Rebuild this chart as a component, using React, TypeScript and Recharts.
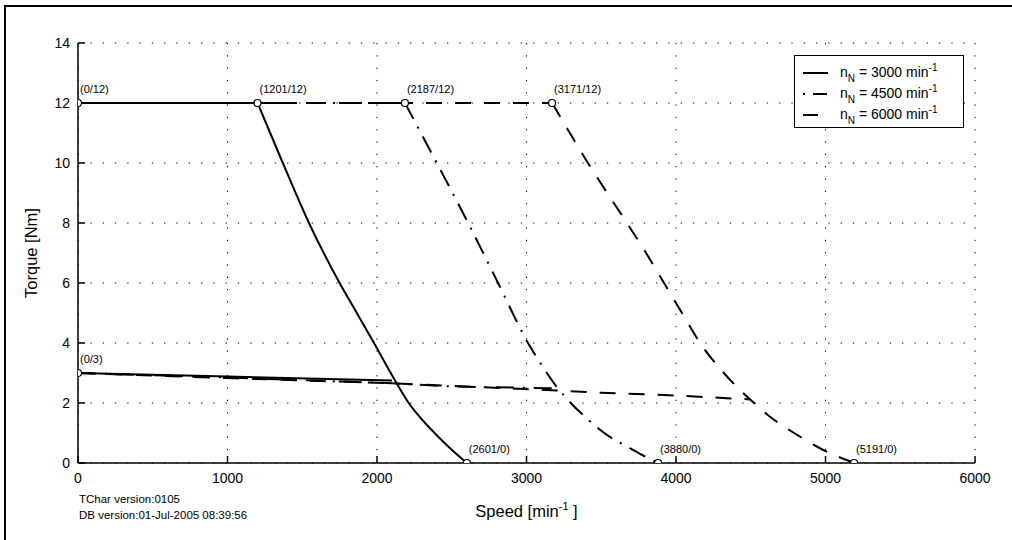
import React from "react";
import {
  CartesianGrid,
  ComposedChart,
  Legend,
  Line,
  Scatter,
  XAxis,
  YAxis,
} from "recharts";

// flat part of the peak torque curves
const flatSpeed3000 = [0, 1201];
const flatSpeed4500 = [0, 2187];
const flatSpeed6000 = [0, 3171];
const flatTorque = [12, 12];

// falling part of the peak torque curves
const speed3000 = [1201, 1370, 1545, 1750, 1865, 1980, 2092, 2150, 2212, 2292, 2385, 2487, 2601];
const torque3000 = [12, 10, 8, 6, 5, 4, 3, 2.5, 2, 1.5, 1, 0.5, 0];

const speed4500 = [2187, 2400, 2610, 2810, 3010, 3110, 3200, 3296, 3400, 3520, 3690, 3780, 3880];
const torque4500 = [12, 10, 8, 6, 4, 3.2, 2.55, 2, 1.5, 1, 0.5, 0.25, 0];

const speed6000 = [3171, 3290, 3411, 3540, 3672, 3800, 3920, 4040, 4161, 4320, 4522, 4640, 4790, 4960, 5191];
const torque6000 = [12, 11, 10, 9, 8, 7, 6, 5, 4, 3, 2, 1.5, 1, 0.5, 0];

// continuous torque curves
const lowSpeed3000 = [0, 1000, 2100];
const lowTorque3000 = [3, 2.88, 2.75];

const lowSpeed4500 = [0, 1000, 2100, 2500, 3202];
const lowTorque4500 = [3, 2.85, 2.66, 2.55, 2.49];

const lowSpeed6000 = [0, 1000, 2100, 2500, 3200, 3500, 3915, 4339, 4500];
const lowTorque6000 = [3, 2.83, 2.66, 2.57, 2.42, 2.34, 2.27, 2.16, 2.12];

// marked corner points
const markSpeeds = [0, 1201, 2187, 3171, 0, 2601, 3880, 5191];
const markTorques = [12, 12, 12, 12, 3, 0, 0, 0];

const xTicks = [0, 1000, 2000, 3000, 4000, 5000, 6000];
const yTicks = [0, 2, 4, 6, 8, 10, 12, 14];

const legendValues = ["3000", "4500", "6000"];
const legendDash = ["", "2 8 14 100", "15 100"];

const FONT = "'Liberation Sans', Arial, Helvetica, sans-serif";
const DASHDOT = "18 9 2 9";
const DASHED = "16 13";

const toRows = (xs: number[], ys: number[]) =>
  xs.map((s, i) => ({ speed: s, torque: ys[i] }));

const marks = markSpeeds.map((s, i) => ({ speed: s, torque: markTorques[i] }));

const MarkShape = (props: any) => {
  const { cx, cy, payload } = props;
  return (
    <g>
      <circle cx={cx} cy={cy} r={3.5} fill="#fff" stroke="#000" strokeWidth={1.2} />
      <text x={cx + 2} y={cy - 10} fontSize={11} fontFamily={FONT} fill="#000">
        {`(${payload.speed}/${payload.torque})`}
      </text>
    </g>
  );
};

const LegendBox = () => (
  <div
    style={{
      border: "1.5px solid #000",
      background: "#fff",
      width: 170,
      height: 73,
      boxSizing: "border-box",
      padding: "6px 0 0 8px",
      fontFamily: FONT,
      fontSize: 14,
      color: "#000",
    }}
  >
    {legendValues.map((v, i) => (
      <div key={v} style={{ display: "flex", alignItems: "center", height: 21 }}>
        <svg width={26} height={10} style={{ marginRight: 11 }}>
          <line
            x1={0}
            y1={5}
            x2={25}
            y2={5}
            stroke="#000"
            strokeWidth={2}
            strokeDasharray={legendDash[i] || undefined}
          />
        </svg>
        <span>
          n<sub style={{ fontSize: 10, verticalAlign: "-5px" }}>N</sub> = {v} min
          <sup style={{ fontSize: 10, verticalAlign: "6px" }}>-1</sup>
        </span>
      </div>
    ))}
  </div>
);

const XLabel = (props: any) => {
  const { viewBox } = props;
  const cx = viewBox.x + viewBox.width / 2;
  return (
    <text x={cx} y={viewBox.y + 54} textAnchor="middle" fontSize={16.5} fontFamily={FONT} fill="#000">
      Speed [min
      <tspan fontSize={11} dy={-7}>-1</tspan>
      <tspan dy={7}> ]</tspan>
    </text>
  );
};

const YLabel = (props: any) => {
  const { viewBox } = props;
  const cx = viewBox.x + 15;
  const cy = viewBox.y + viewBox.height / 2;
  return (
    <text
      x={cx}
      y={cy}
      transform={`rotate(-90 ${cx} ${cy})`}
      textAnchor="middle"
      dominantBaseline="middle"
      fontSize={16.5}
      fontFamily={FONT}
      fill="#000"
    >
      Torque [Nm]
    </text>
  );
};

const lineBase = {
  dataKey: "torque",
  stroke: "#000",
  strokeWidth: 2,
  dot: false,
  isAnimationActive: false,
};

export default function App() {
  const tickStyle = { fontSize: 14, fontFamily: FONT, fill: "#000" };
  return (
    <div style={{ position: "absolute", left: 0, top: 0, width: 1012, height: 540, background: "#fff" }}>
      <div
        style={{
          position: "absolute",
          left: 4,
          top: 5,
          width: 1020,
          height: 560,
          borderLeft: "2px solid #000",
          borderTop: "2px solid #000",
        }}
      />
      <ComposedChart
        width={1012}
        height={540}
        margin={{ top: 43, right: 37, bottom: 37, left: 18 }}
        style={{ position: "absolute", left: 0, top: 0 }}
      >
        <CartesianGrid stroke="#000" strokeWidth={1} strokeDasharray="1.3 11" />
        <XAxis
          type="number"
          dataKey="speed"
          domain={[0, 6000]}
          ticks={xTicks}
          height={40}
          tickSize={-7}
          tickMargin={17}
          tick={tickStyle}
          stroke="#000"
          strokeWidth={1.5}
          allowDataOverflow
          label={<XLabel />}
        />
        <XAxis
          xAxisId="top"
          type="number"
          orientation="top"
          domain={[0, 6000]}
          ticks={xTicks}
          height={0}
          tickSize={-7}
          tick={false}
          stroke="#000"
          strokeWidth={1.5}
        />
        <YAxis
          type="number"
          domain={[0, 14]}
          ticks={yTicks}
          width={60}
          tickSize={-7}
          tickMargin={15}
          tick={tickStyle}
          stroke="#000"
          strokeWidth={1.5}
          allowDataOverflow
          label={<YLabel />}
        />
        <YAxis
          yAxisId="right"
          orientation="right"
          type="number"
          domain={[0, 14]}
          ticks={yTicks}
          width={0}
          tickSize={-7}
          tick={false}
          stroke="#000"
          strokeWidth={1.5}
        />
        <Line {...lineBase} data={toRows(lowSpeed6000, lowTorque6000)} strokeDasharray={DASHED} legendType="none" />
        <Line {...lineBase} data={toRows(lowSpeed4500, lowTorque4500)} strokeDasharray={DASHDOT} legendType="none" />
        <Line {...lineBase} data={toRows(lowSpeed3000, lowTorque3000)} legendType="none" />
        <Line {...lineBase} data={toRows(flatSpeed6000, flatTorque)} strokeDasharray={DASHED} legendType="none" />
        <Line {...lineBase} data={toRows(flatSpeed4500, flatTorque)} strokeDasharray={DASHDOT} legendType="none" />
        <Line {...lineBase} data={toRows(flatSpeed3000, flatTorque)} legendType="none" />
        <Line {...lineBase} type="monotone" data={toRows(speed6000, torque6000)} strokeDasharray={DASHED} />
        <Line {...lineBase} type="monotone" data={toRows(speed4500, torque4500)} strokeDasharray={DASHDOT} />
        <Line {...lineBase} type="monotone" data={toRows(speed3000, torque3000)} />
        <Scatter data={marks} dataKey="torque" shape={<MarkShape />} isAnimationActive={false} legendType="none" />
        <Legend
          layout="vertical"
          align="center"
          verticalAlign="middle"
          content={<LegendBox />}
          wrapperStyle={{ position: "absolute", left: 794, top: 55, width: 170, height: 73 }}
        />
      </ComposedChart>
      <div
        style={{
          position: "absolute",
          left: 79,
          top: 491,
          fontFamily: FONT,
          fontSize: 11.5,
          lineHeight: "16px",
          color: "#000",
        }}
      >
        <div>TChar version:0105</div>
        <div>DB version:01-Jul-2005 08:39:56</div>
      </div>
    </div>
  );
}
